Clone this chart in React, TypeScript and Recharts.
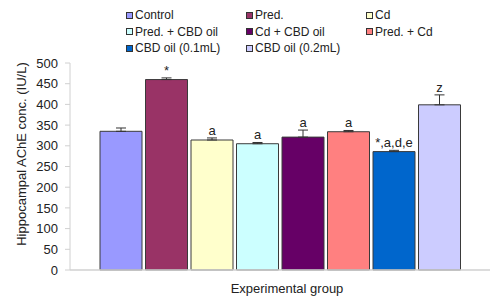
import React from "react";
import { BarChart, Bar, XAxis, YAxis, ErrorBar, Legend } from "recharts";

// --- Data ---

const GROUPS = [
  "Control",
  "Pred.",
  "Cd",
  "Pred. + CBD oil",
  "Cd + CBD oil",
  "Pred. + Cd",
  "CBD oil (0.1mL)",
  "CBD oil (0.2mL)",
];
const MEANS = [335, 460, 314, 305, 321, 334, 286, 399];
const ERRORS = [8, 4, 5, 3, 17, 3, 3, 24];
const MARKS = ["", "*", "a", "a", "a", "a", "*,a,d,e", "z"];
const Y_TICKS = [0, 50, 100, 150, 200, 250, 300, 350, 400, 450, 500];

const COLORS = [
  "#9999ff",
  "#993366",
  "#ffffcc",
  "#ccffff",
  "#660066",
  "#ff8080",
  "#0066cc",
  "#ccccff",
];

const FONT = "'Liberation Sans', Arial, sans-serif";
const AXIS_LINE = "#d0d0d0";
const TEXT = "#222";

// one category, one series per group
const row: Record<string, any> = { cat: "Experimental group" };
GROUPS.forEach((_, i) => {
  row[`s${i}`] = MEANS[i];
  row[`e${i}`] = [0, ERRORS[i]];
});
const data = [row];

// --- Sub-components ---

function LegendGrid() {
  return (
    <div style={{ position: "relative", width: 491, height: 60, fontFamily: FONT }}>
      {GROUPS.map((g, i) => {
        const col = i % 3;
        const r = Math.floor(i / 3);
        return (
          <div
            key={g}
            style={{
              position: "absolute",
              left: 126 + col * 120,
              top: 7 + r * 16.6,
              display: "flex",
              alignItems: "center",
              fontSize: 12,
              lineHeight: "16px",
              color: TEXT,
              whiteSpace: "nowrap",
            }}
          >
            <span
              style={{
                width: 5,
                height: 5,
                border: "1px solid #333",
                background: COLORS[i],
                display: "inline-block",
                marginRight: 2,
              }}
            />
            {g}
          </div>
        );
      })}
    </div>
  );
}

function markLabel(i: number) {
  return (props: any) => {
    const { x, y, width, height, value } = props;
    if (!MARKS[i]) return null;
    const perUnit = height / value;
    const top = y - ERRORS[i] * perUnit;
    return (
      <text
        x={x + width / 2}
        y={top - 3}
        textAnchor="middle"
        fontSize={13}
        fontFamily={FONT}
        fill={TEXT}
      >
        {MARKS[i]}
      </text>
    );
  };
}

export default function App() {
  return (
    <div style={{ position: "absolute", left: 0, top: 0, background: "#fff" }}>
      <BarChart
        width={491}
        height={297}
        data={data}
        margin={{ top: 63, right: 1, bottom: 0, left: 0 }}
        barSize={42}
        barGap={3.5}
      >
        <XAxis
          dataKey="cat"
          tick={false}
          tickLine={false}
          axisLine={{ stroke: AXIS_LINE, strokeWidth: 1.5 }}
          height={27}
          label={{
            content: () => (
              <text
                x={287}
                y={293}
                textAnchor="middle"
                fontSize={13}
                fontFamily={FONT}
                fill={TEXT}
              >
                Experimental group
              </text>
            ),
          }}
        />
        <YAxis
          domain={[0, 500]}
          ticks={Y_TICKS}
          interval={0}
          width={70}
          tickSize={5}
          tickMargin={7}
          tick={{ fill: TEXT, fontSize: 13, fontFamily: FONT }}
          tickLine={{ stroke: AXIS_LINE }}
          axisLine={{ stroke: AXIS_LINE }}
          label={{
            content: () => (
              <text
                x={26}
                y={154}
                transform="rotate(-90 26 154)"
                textAnchor="middle"
                fontSize={13}
                fontFamily={FONT}
                fill={TEXT}
              >
                Hippocampal AChE conc. (IU/L)
              </text>
            ),
          }}
        />
        <Legend
          verticalAlign="middle"
          layout="horizontal"
          content={() => <LegendGrid />}
          wrapperStyle={{ left: 0, top: 0, width: 491, height: 60 }}
        />
        {GROUPS.map((g, i) => (
          <Bar
            key={g}
            dataKey={`s${i}`}
            name={g}
            fill={COLORS[i]}
            stroke="#3a3a3a"
            strokeWidth={1}
            isAnimationActive={false}
            label={markLabel(i)}
          >
            <ErrorBar dataKey={`e${i}`} width={5} stroke="#333" strokeWidth={1} />
          </Bar>
        ))}
      </BarChart>
    </div>
  );
}
